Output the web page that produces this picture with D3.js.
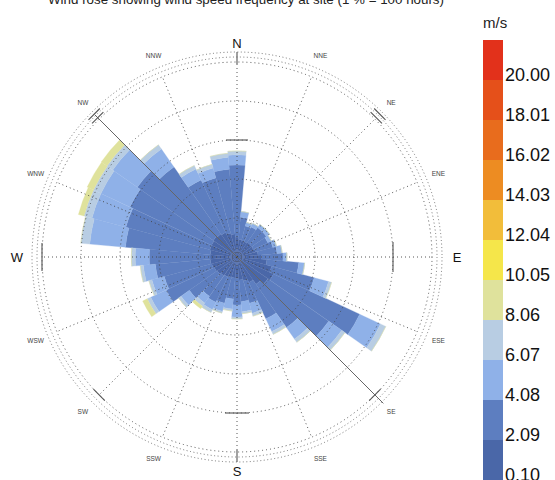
<!DOCTYPE html>
<html>
<head>
<meta charset="utf-8">
<script src="https://cdn.jsdelivr.net/npm/d3@7"></script>
<style>
  body { margin: 0; background: #fff; }
  svg { display: block; font-family: "Liberation Sans", Arial, sans-serif; }
</style>
</head>
<body>
<div id="vis"></div>
<script>
// sector centres in degrees (clockwise from north), 10 degree sectors
const DIRECTIONS = [0, 10, 20, 30, 40, 50, 60, 70, 80, 90, 100, 110,
                    120, 130, 140, 150, 160, 170, 180, 190, 200, 210, 220, 230,
                    240, 250, 260, 270, 280, 290, 300, 310, 320, 330, 340, 350];

// frequency (%) of each speed class per sector
const FREQ_0_2 = [0.51, 0.46, 0.44, 0.44, 0.46, 0.46, 0.46, 0.49, 0.54, 0.62, 0.77, 0.92,
                  1.03, 0.97, 0.85, 0.72, 0.64, 0.59, 0.56, 0.54, 0.54, 0.56, 0.59, 0.62,
                  0.64, 0.67, 0.69, 0.69, 0.69, 0.72, 0.72, 0.74, 0.72, 0.69, 0.64, 0.59];
const FREQ_2_4 = [1.85, 0.56, 0.38, 0.41, 0.46, 0.46, 0.41, 0.46, 0.49, 0.56, 0.82, 1.13,
                  2.44, 1.90, 1.36, 1.03, 0.59, 0.56, 0.67, 0.54, 0.69, 0.72, 0.64, 0.87,
                  1.36, 1.26, 1.41, 1.56, 2.18, 2.23, 2.31, 2.38, 2.10, 1.49, 1.46, 1.67];
const FREQ_4_6 = [0.26, 0.15, 0.10, 0.10, 0.10, 0.10, 0.10, 0.10, 0.13, 0.10, 0.15, 0.38,
                  0.59, 0.41, 0.36, 0.36, 0.26, 0.26, 0.31, 0.26, 0.21, 0.21, 0.21, 0.26,
                  0.44, 0.33, 0.31, 0.36, 0.92, 0.90, 0.82, 0.77, 0.56, 0.31, 0.26, 0.31];
const FREQ_6_8 = [0.10, 0.00, 0.00, 0.00, 0.00, 0.00, 0.00, 0.00, 0.00, 0.00, 0.00, 0.08,
                  0.15, 0.10, 0.10, 0.08, 0.08, 0.05, 0.05, 0.05, 0.05, 0.08, 0.10, 0.08,
                  0.10, 0.08, 0.08, 0.10, 0.23, 0.21, 0.21, 0.18, 0.13, 0.10, 0.10, 0.10];
const FREQ_8_10 = [0, 0, 0, 0, 0, 0, 0, 0, 0, 0, 0, 0,
                   0, 0, 0, 0, 0, 0, 0, 0, 0, 0, 0.08, 0,
                   0.13, 0, 0, 0, 0, 0.15, 0.18, 0.18, 0, 0, 0, 0];

// colour bar class limits (m/s)
const SPEED_LABELS = ["0.10", "2.09", "4.08", "6.07", "8.06", "10.05",
                      "12.04", "14.03", "16.02", "18.01", "20.00"];

// compass labels
const COMPASS = ["N", "NNE", "NE", "ENE", "E", "ESE", "SE", "SSE",
                 "S", "SSW", "SW", "WSW", "W", "WNW", "NW", "NNW"];

// frequency rings (%)
const RINGS = [1, 2, 3, 4, 5];

const TITLE = "Wind rose showing wind speed frequency at site (1 % = 100 hours)";

// constants for the layout
const FRAME_WIDTH = 555;
const FRAME_HEIGHT = 480;
const CENTER = {x: 237, y: 257};
const R_MAX = 195;
const COLORS = ["#4a67a8", "#5d7ec0", "#8fb1e8", "#b8cde3", "#dfe29c", "#f5e64a",
                "#f2bd3a", "#ed8c22", "#e86c1d", "#e5501a", "#e2311b"];

const FRAME = d3.select("#vis")
  .append("svg")
  .attr("width", FRAME_WIDTH)
  .attr("height", FRAME_HEIGHT);

FRAME.append("rect")
  .attr("width", FRAME_WIDTH)
  .attr("height", FRAME_HEIGHT)
  .attr("fill", "#fff");

// title, cut by the top edge as in the source
FRAME.append("text")
  .attr("x", 246)
  .attr("y", 4)
  .attr("text-anchor", "middle")
  .attr("font-size", "13px")
  .attr("fill", "#222")
  .attr("textLength", 396)
  .attr("lengthAdjust", "spacingAndGlyphs")
  .text(TITLE);

// radius scale: frequency -> pixels
const R_SCALE = d3.scaleLinear()
  .domain([0, 5])
  .range([0, R_MAX]);

const KEYS = ["b0", "b1", "b2", "b3", "b4"];
const TABLE = DIRECTIONS.map((d, i) => ({
  dir: d, b0: FREQ_0_2[i], b1: FREQ_2_4[i], b2: FREQ_4_6[i], b3: FREQ_6_8[i], b4: FREQ_8_10[i]
}));
const STACKED = d3.stack().keys(KEYS)(TABLE);

const ROSE = FRAME.append("g")
  .attr("transform", "translate(" + CENTER.x + "," + CENTER.y + ")");

const ARC = d3.arc();
const RAD = Math.PI / 180;

// polar helper (compass degrees)
function pt(deg, r) {
  return [r * Math.sin(deg * RAD), -r * Math.cos(deg * RAD)];
}

// add bars
STACKED.forEach((layer, k) => {
  ROSE.append("g")
    .selectAll("path")
    .data(layer)
    .enter()
    .append("path")
    .attr("d", (d) => ARC({
      innerRadius: R_SCALE(d[0]),
      outerRadius: R_SCALE(d[1]),
      startAngle: (d.data.dir - 5) * RAD,
      endAngle: (d.data.dir + 5) * RAD
    }))
    .attr("fill", COLORS[k])
    .attr("stroke", COLORS[k])
    .attr("stroke-width", 0.3);
});

// dotted grid rings
ROSE.selectAll(".ring")
  .data(RINGS)
  .enter()
  .append("circle")
  .attr("r", (d) => R_SCALE(d))
  .attr("fill", "none")
  .attr("stroke", "#444")
  .attr("stroke-width", 0.9)
  .attr("stroke-dasharray", "1,3");

// outer triple ring
ROSE.selectAll(".outer")
  .data([R_MAX + 5, R_MAX + 10])
  .enter()
  .append("circle")
  .attr("r", (d) => d)
  .attr("fill", "none")
  .attr("stroke", "#555")
  .attr("stroke-width", 0.8)
  .attr("stroke-dasharray", "1,2.5");

// dotted radial lines
ROSE.selectAll(".spoke")
  .data(d3.range(COMPASS.length))
  .enter()
  .append("line")
  .attr("x1", 0).attr("y1", 0)
  .attr("x2", (i) => pt(i * 22.5, R_MAX)[0])
  .attr("y2", (i) => pt(i * 22.5, R_MAX)[1])
  .attr("stroke", "#444")
  .attr("stroke-width", 0.9)
  .attr("stroke-dasharray", "1,3");

// solid NW - SE axis line
ROSE.append("line")
  .attr("x1", pt(315, R_MAX + 6)[0]).attr("y1", pt(315, R_MAX + 6)[1])
  .attr("x2", pt(135, R_MAX + 12)[0]).attr("y2", pt(135, R_MAX + 12)[1])
  .attr("stroke", "#666")
  .attr("stroke-width", 1);

// tangent ticks: cardinal axes and diagonals
function tangentTick(deg, r, len) {
  const c = pt(deg, r);
  const t = [Math.cos(deg * RAD), Math.sin(deg * RAD)];
  ROSE.append("line")
    .attr("x1", c[0] - t[0] * len / 2).attr("y1", c[1] - t[1] * len / 2)
    .attr("x2", c[0] + t[0] * len / 2).attr("y2", c[1] + t[1] * len / 2)
    .attr("stroke", "#555")
    .attr("stroke-width", 1.1);
}
tangentTick(0, R_SCALE(3), 22);
tangentTick(90, R_SCALE(4), 30);
tangentTick(180, R_SCALE(4), 24);
tangentTick(270, R_SCALE(5), 28);
[45, 315].forEach((d) => { tangentTick(d, R_MAX + 2, 16); tangentTick(d, R_MAX + 7, 16); });
[135, 225].forEach((d) => tangentTick(d, R_MAX, 16));

// radial ticks at N and S
[0, 180].forEach((d) => {
  ROSE.append("line")
    .attr("x1", pt(d, R_MAX - 2)[0]).attr("y1", pt(d, R_MAX - 2)[1])
    .attr("x2", pt(d, R_MAX + 10)[0]).attr("y2", pt(d, R_MAX + 10)[1])
    .attr("stroke", "#555")
    .attr("stroke-width", 1.1);
});

// compass labels (cardinal ones slightly wider on the E-W axis)
function labelPos(i) {
  const deg = i * 22.5;
  const p = pt(deg, 218);
  if (i % 4 === 0) {
    return [Math.sin(deg * RAD) * 220, -Math.cos(deg * RAD) * 214];
  }
  return p;
}
ROSE.selectAll(".lab")
  .data(COMPASS)
  .enter()
  .append("text")
  .attr("x", (d, i) => labelPos(i)[0])
  .attr("y", (d, i) => labelPos(i)[1])
  .attr("text-anchor", "middle")
  .attr("dominant-baseline", "central")
  .attr("font-size", (d, i) => (i % 4 === 0 ? "13px" : "6.5px"))
  .attr("fill", (d, i) => (i % 4 === 0 ? "#111" : "#444"))
  .text((d) => d);

// colour bar
const Y_LEG = d3.scaleLinear()
  .domain([0, SPEED_LABELS.length])
  .range([480, 40]);

FRAME.append("g")
  .selectAll("rect")
  .data(COLORS)
  .enter()
  .append("rect")
  .attr("x", 483)
  .attr("y", (d, i) => Y_LEG(i + 1))
  .attr("width", 20)
  .attr("height", (d, i) => Y_LEG(i) - Y_LEG(i + 1))
  .attr("fill", (d) => d);

FRAME.append("g")
  .selectAll("text")
  .data(SPEED_LABELS)
  .enter()
  .append("text")
  .attr("x", 505)
  .attr("y", (d, i) => Y_LEG(i) + 1)
  .attr("font-size", "18px")
  .attr("fill", "#111")
  .text((d) => d);

FRAME.append("text")
  .attr("x", 483)
  .attr("y", 28)
  .attr("font-size", "15px")
  .attr("fill", "#222")
  .text("m/s");
</script>
</body>
</html>
